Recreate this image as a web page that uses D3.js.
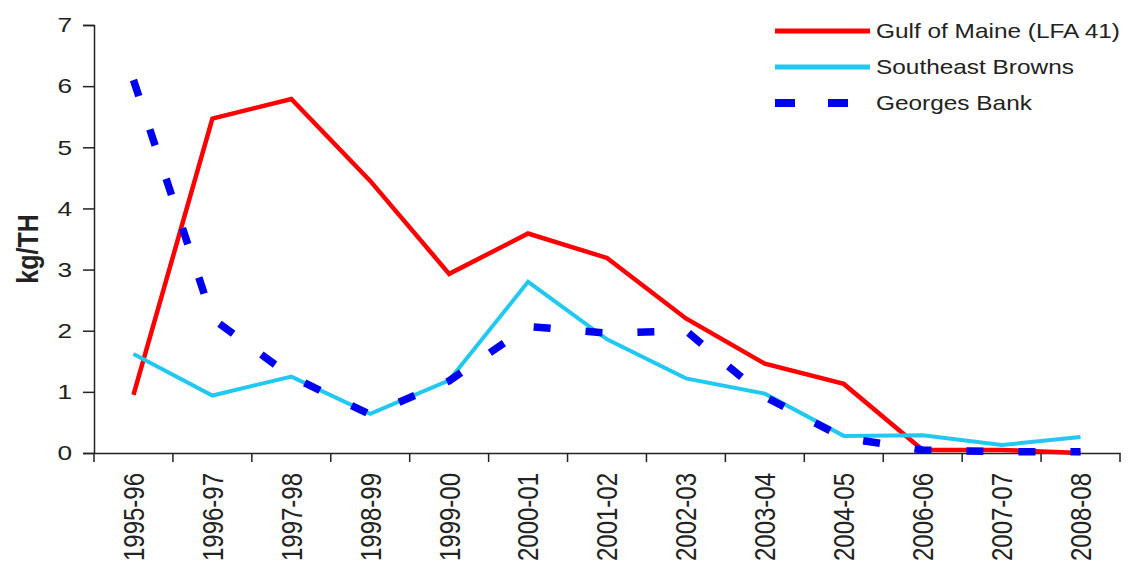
<!DOCTYPE html>
<html>
<head>
<meta charset="utf-8">
<script src="https://cdn.jsdelivr.net/npm/d3@7"></script>
<style>
  body { margin: 0; background: #fff; }
  text { font-family: "Liberation Sans", Arial, sans-serif; fill: #222; }
</style>
</head>
<body>
<svg id="chart" width="1129" height="566"></svg>
<script>
'use strict';

var seasons = ['1995-96', '1996-97', '1997-98', '1998-99', '1999-00', '2000-01', '2001-02',
  '2002-03', '2003-04', '2004-05', '2006-06', '2007-07', '2008-08'];
var gulfOfMaine = [0.95, 5.47, 5.79, 4.45, 2.93, 3.59, 3.19, 2.2, 1.46, 1.13, 0.05, 0.05, 0.0];
var southeastBrowns = [1.62, 0.94, 1.25, 0.64, 1.19, 2.8, 1.86, 1.22, 0.97, 0.28, 0.29, 0.13, 0.26];
var georgesBank = [6.1, 2.2, 1.25, 0.63, 1.18, 2.07, 1.96, 2.0, 0.92, 0.25, 0.05, 0.02, 0.02];
var yTicks = [0, 1, 2, 3, 4, 5, 6, 7];

var series = [
  {name: 'Gulf of Maine (LFA 41)', values: gulfOfMaine, color: '#ff0000', width: 4.5, dash: null},
  {name: 'Southeast Browns', values: southeastBrowns, color: '#22c8f0', width: 4, dash: null},
  {name: 'Georges Bank', values: georgesBank, color: '#0000f0', width: 7.5, dash: '17,35'}
];

var svg = d3.select('#chart');
var plotLeft = 94, plotRight = 1120, plotTop = 25, plotBottom = 453;

var x = d3.scaleBand().domain(seasons).range([plotLeft, plotRight]);
var y = d3.scaleLinear().domain([0, 7]).range([plotBottom, plotTop]);

// axes
var yAxis = svg.append('g')
  .attr('transform', 'translate(' + plotLeft + ',0)')
  .call(d3.axisLeft(y).tickValues(yTicks).tickFormat(d3.format('d')).tickSize(11).tickPadding(0));
yAxis.select('.domain').attr('stroke', '#222').attr('stroke-width', 1.5);
yAxis.selectAll('.tick line').attr('stroke', '#222').attr('stroke-width', 1.5);
// the source picture is stretched sideways, so widen the glyphs a bit
yAxis.selectAll('text')
  .style('font-size', '21px')
  .attr('fill', '#333')
  .attr('x', null)
  .attr('transform', 'translate(-22,0) scale(1.25,1)');

var xAxis = svg.append('g')
  .attr('transform', 'translate(0,' + plotBottom + ')')
  .call(d3.axisBottom(x).tickSize(0).tickPadding(0));
xAxis.select('.domain').attr('stroke', '#222').attr('stroke-width', 1.5);
xAxis.selectAll('.tick line').remove();
xAxis.selectAll('text')
  .style('font-size', '24px')
  .attr('fill', '#333')
  .attr('text-anchor', 'end')
  .attr('transform', 'rotate(-90) scale(1,1.2)')
  .attr('x', -20)
  .attr('y', 0)
  .attr('dy', '0.36em');

// band separators on the x axis
svg.append('g').selectAll('line')
  .data(seasons.concat(['end']))
  .enter()
  .append('line')
  .attr('x1', function (d, i) { return plotLeft + i * x.bandwidth(); })
  .attr('x2', function (d, i) { return plotLeft + i * x.bandwidth(); })
  .attr('y1', plotBottom)
  .attr('y2', plotBottom + 9)
  .attr('stroke', '#222')
  .attr('stroke-width', 1.5);

svg.append('text')
  .attr('transform', 'translate(38,' + ((plotTop + plotBottom) / 2 + 10) + ') rotate(-90) scale(1,1.15)')
  .attr('text-anchor', 'middle')
  .style('font-size', '25px')
  .style('font-weight', 'bold')
  .attr('fill', '#111')
  .text('kg/TH');

var line = d3.line()
  .x(function (d, i) { return x(seasons[i]) + x.bandwidth() / 2; })
  .y(function (d) { return y(d); });

series.forEach(function (s) {
  svg.append('path')
    .datum(s.values)
    .attr('d', line)
    .attr('fill', 'none')
    .attr('stroke', s.color)
    .attr('stroke-width', s.width)
    .attr('stroke-linejoin', 'miter')
    .attr('stroke-dasharray', s.dash);
});

// legend
var legend = svg.append('g');
series.forEach(function (s, i) {
  var ly = 31 + i * 36;
  legend.append('line')
    .attr('x1', 775).attr('x2', s.dash ? 862 : 870)
    .attr('y1', ly).attr('y2', ly)
    .attr('stroke', s.color)
    .attr('stroke-width', s.dash ? 8 : 5)
    .attr('stroke-dasharray', s.dash ? '20,33' : null);
  legend.append('text')
    .attr('transform', 'translate(876,' + ly + ') scale(1.22,1)')
    .attr('dy', '0.35em')
    .style('font-size', '20px')
    .text(s.name);
});
</script>
</body>
</html>
